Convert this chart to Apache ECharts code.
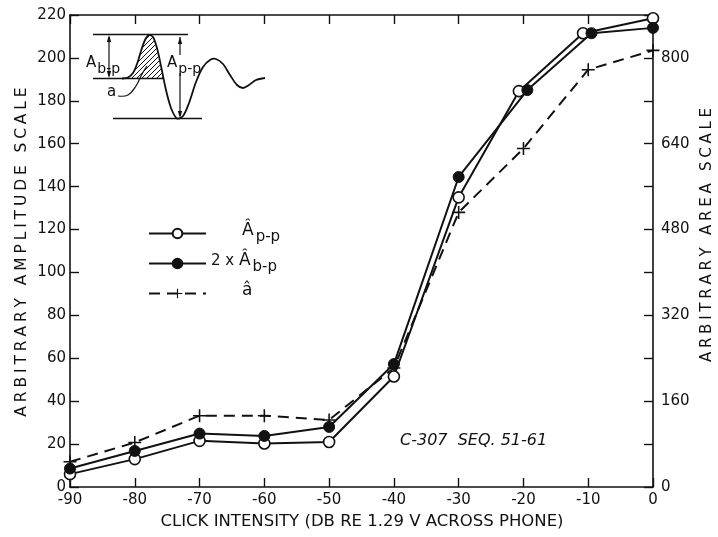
<!DOCTYPE html>
<html>
<head>
<meta charset="utf-8">
<script src="https://cdn.jsdelivr.net/npm/echarts@6/dist/echarts.min.js"></script>
<style>
  html, body { margin: 0; padding: 0; background: #fff; }
  #chart { width: 718px; height: 537px; }
</style>
</head>
<body>
<div id="chart"></div>
<script>
// Click intensity (dB re 1.29 V across phone)
var intensityDb   = [-90, -80, -70, -60, -50, -40, -30, -20, -10, 0];
// Peak-to-peak amplitude (left scale); last points sit slightly off the grid
var ppIntensity   = [-90, -80, -70, -60, -50, -40, -30, -20.7, -10.8, 0];
var ampPeakPeak   = [6, 13, 21.5, 20.3, 21, 51.5, 135, 184.5, 211.5, 218.5];
// Twice the baseline-to-peak amplitude (left scale)
var bpIntensity   = [-90, -80, -70, -60, -50, -40, -30, -19.4, -9.5, 0];
var ampBasePeak2x = [8.6, 16.8, 24.9, 23.8, 28, 57.3, 144.5, 185, 211.5, 214];
// Area under the first lobe (right scale)
var areaValues    = [47, 83, 133, 133, 125, 222, 512, 631, 778, 814];

var leftTicks       = { min: 0, max: 220, step: 20 };
var rightTickValues = [0, 80, 160, 240, 320, 400, 480, 560, 640, 720, 800, 880];
var rightLabels     = [0, 160, 320, 480, 640, 800];

function pairs(xs, ys) { return xs.map(function (x, i) { return [x, ys[i]]; }); }

var FONT = 'DejaVu Sans';
var INK = '#111';
var WIDE = '\u2005'; // four-per-em space used to letter-space the axis titles

function spaced(s) { return s.split('').join(WIDE); }

// hatching for the shaded lobe in the inset sketch
function hatchPattern() {
  var c = document.createElement('canvas');
  c.width = 5; c.height = 5;
  var g = c.getContext('2d');
  g.strokeStyle = INK; g.lineWidth = 1;
  g.beginPath();
  g.moveTo(-1, 6); g.lineTo(6, -1);
  g.moveTo(-1, 1); g.lineTo(1, -1);
  g.moveTo(4, 6); g.lineTo(6, 4);
  g.stroke();
  return { image: c, repeat: 'repeat' };
}

var plusPath = 'path://M-0.12,-1 L0.12,-1 L0.12,1 L-0.12,1 Z M-1,-0.12 L1,-0.12 L1,0.12 L-1,0.12 Z';

// all four sides of the frame carry inward ticks; axes stay on the frame edges
var axisCommon = {
  axisLine: { onZero: false, lineStyle: { color: INK, width: 1.6 } },
  axisTick: { inside: true, length: 9, lineStyle: { color: INK, width: 1.4 } },
  splitLine: { show: false },
  axisLabel: { color: INK, fontFamily: FONT, fontSize: 15 }
};

function merge(a, b) { return Object.assign({}, a, b); }

var chart = echarts.init(document.getElementById('chart'), null, { renderer: 'canvas' });

var subRich = {
  a: { fontSize: 15, fontFamily: FONT, fill: INK, verticalAlign: 'bottom', padding: [0, 0, 5, 0] },
  s: { fontSize: 14, fontFamily: FONT, fill: INK, verticalAlign: 'bottom', padding: [0, 0, 0, 1] }
};

var option = {
  backgroundColor: '#fff',
  animation: false,
  grid: { left: 70, top: 15, right: 65, bottom: 50, containLabel: false, outerBoundsMode: 'none' },
  xAxis: [
    merge(axisCommon, {
      type: 'value', position: 'bottom', min: -90, max: 0, interval: 10,
      axisLabel: merge(axisCommon.axisLabel, { margin: 6 })
    }),
    merge(axisCommon, {
      type: 'value', position: 'top', min: -90, max: 0, interval: 10,
      axisLabel: { show: false }
    })
  ],
  yAxis: [
    merge(axisCommon, {
      type: 'value', position: 'left',
      min: leftTicks.min, max: leftTicks.max, interval: leftTicks.step,
      axisLabel: merge(axisCommon.axisLabel, { margin: 4 })
    }),
    merge(axisCommon, {
      type: 'value', position: 'right', min: 0, max: 880,
      axisTick: merge(axisCommon.axisTick, { customValues: rightTickValues }),
      axisLabel: merge(axisCommon.axisLabel, { margin: 8, customValues: rightLabels })
    })
  ],
  legend: {
    orient: 'vertical', left: 148, top: 222, padding: 0,
    itemWidth: 57, itemHeight: 12, itemGap: 7,
    textStyle: {
      color: INK, fontFamily: FONT, fontSize: 15,
      rich: {
        pad: { width: 31 },
        base: { fontSize: 15, fontFamily: FONT, color: INK, verticalAlign: 'bottom', padding: [0, 0, 6, 0] },
        hat: { fontSize: 17, fontFamily: FONT, color: INK, verticalAlign: 'bottom', padding: [0, 0, 6, 0] },
        sub: { fontSize: 15, fontFamily: FONT, color: INK, verticalAlign: 'bottom', padding: [0, 0, 0, 2] }
      }
    },
    formatter: function (name) {
      if (name === 'pp') return '{pad|}{hat|Â}{sub|p-p}';
      if (name === 'bp') return '{base|2 x }{hat|Â}{sub|b-p}';
      return '{pad|}{hat|â}';
    },
    data: ['pp', 'bp', 'area']
  },
  series: [
    {
      name: 'area', type: 'line', xAxisIndex: 0, yAxisIndex: 1,
      data: pairs(intensityDb, areaValues),
      symbol: plusPath, symbolSize: 13,
      lineStyle: { color: INK, width: 2, type: [11, 7] },
      itemStyle: { color: INK }
    },
    {
      name: 'pp', type: 'line', xAxisIndex: 0, yAxisIndex: 0,
      data: pairs(ppIntensity, ampPeakPeak),
      symbol: 'circle', symbolSize: 11,
      lineStyle: { color: INK, width: 2 },
      itemStyle: { color: '#fff', borderColor: INK, borderWidth: 1.6 }
    },
    {
      name: 'bp', type: 'line', xAxisIndex: 0, yAxisIndex: 0,
      data: pairs(bpIntensity, ampBasePeak2x),
      symbol: 'circle', symbolSize: 11,
      lineStyle: { color: INK, width: 2 },
      itemStyle: { color: INK, borderColor: INK, borderWidth: 1 }
    }
  ],
  graphic: [
    // axis titles
    { type: 'text', x: 22, y: 252, rotation: Math.PI / 2,
      style: { text: spaced('ARBITRARY AMPLITUDE SCALE'), fill: INK, font: '15.5px "' + FONT + '"',
               align: 'center', verticalAlign: 'middle' } },
    { type: 'text', x: 707, y: 235, rotation: Math.PI / 2,
      style: { text: spaced('ARBITRARY AREA SCALE'), fill: INK, font: '15px "' + FONT + '"',
               align: 'center', verticalAlign: 'middle' } },
    { type: 'text', x: 362, y: 522,
      style: { text: 'CLICK INTENSITY (DB RE 1.29 V ACROSS PHONE)', fill: INK, font: '16.5px "' + FONT + '"',
               align: 'center', verticalAlign: 'middle' } },

    // run label
    { type: 'text', x: 400, y: 441,
      style: { text: 'C-307  SEQ. 51-61', fill: INK, font: 'italic 16px "' + FONT + '"', verticalAlign: 'middle' } },

    // inset: definition sketch of the click waveform
    { type: 'group', children: [
      { type: 'line', shape: { x1: 93, y1: 34.5, x2: 188, y2: 34.5 }, style: { stroke: INK, lineWidth: 1.4 } },
      { type: 'line', shape: { x1: 93, y1: 78.5, x2: 164, y2: 78.5 }, style: { stroke: INK, lineWidth: 1.4 } },
      { type: 'line', shape: { x1: 113, y1: 118.5, x2: 202, y2: 118.5 }, style: { stroke: INK, lineWidth: 1.4 } },
      { type: 'polygon',
        shape: { points: [[127, 78.5], [131, 76.5], [134, 72], [137, 64], [140, 54], [143, 45], [146, 38], [149, 35], [152, 36],
                          [155, 42], [158, 53], [161, 66], [164, 78.5]] },
        style: { fill: hatchPattern(), stroke: null } },
      { type: 'polyline',
        shape: { smooth: 0.3, points: [[122, 78.5], [128, 77.5], [133, 73], [137, 64], [141, 51], [145, 40], [149, 35], [153, 37],
                          [157, 48], [161, 66], [166, 90], [171, 108], [177, 118.5], [183, 116], [189, 103], [196, 82],
                          [203, 67], [210, 60], [216, 59], [223, 64], [230, 75], [237, 85], [243, 88], [249, 85],
                          [256, 80], [265, 78]] },
        style: { stroke: INK, lineWidth: 1.8, fill: null } },
      // baseline-to-peak arrow
      { type: 'line', shape: { x1: 109, y1: 37, x2: 109, y2: 76 }, style: { stroke: INK, lineWidth: 1.2 } },
      { type: 'polygon', shape: { points: [[109, 35], [106.8, 42], [111.2, 42]] }, style: { fill: INK } },
      { type: 'polygon', shape: { points: [[109, 78], [106.8, 71], [111.2, 71]] }, style: { fill: INK } },
      // peak-to-peak arrow
      { type: 'line', shape: { x1: 180, y1: 37, x2: 180, y2: 55 }, style: { stroke: INK, lineWidth: 1.2 } },
      { type: 'line', shape: { x1: 180, y1: 73, x2: 180, y2: 116 }, style: { stroke: INK, lineWidth: 1.2 } },
      { type: 'polygon', shape: { points: [[180, 37], [177.8, 44], [182.2, 44]] }, style: { fill: INK } },
      { type: 'polygon', shape: { points: [[180, 118], [177.8, 111], [182.2, 111]] }, style: { fill: INK } },
      // labels
      { type: 'text', x: 86, y: 56, style: { text: '{a|A}{s|b-p}', rich: subRich } },
      { type: 'text', x: 167, y: 56, style: { text: '{a|A}{s|p-p}', rich: subRich } },
      { type: 'text', x: 107, y: 85, style: { text: 'a', font: '15px "' + FONT + '"', fill: INK } },
      { type: 'polyline', shape: { smooth: 0.4, points: [[118, 96], [128, 95], [136, 86], [142, 74], [147, 66]] },
        style: { stroke: INK, lineWidth: 1.2, fill: null } }
    ] }
  ]
};

chart.setOption(option);
</script>
</body>
</html>
